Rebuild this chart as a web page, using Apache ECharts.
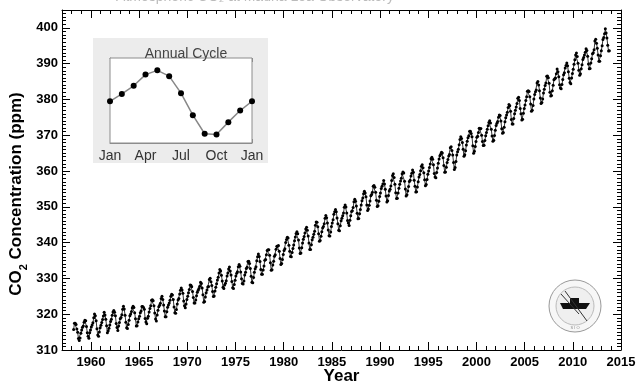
<!DOCTYPE html>
<html>
<head>
<meta charset="utf-8">
<script src="https://cdn.jsdelivr.net/npm/echarts@6/dist/echarts.min.js"></script>
<style>
  html, body { margin: 0; padding: 0; background: #fff; }
  #main { width: 636px; height: 383px; }
</style>
</head>
<body>
<div id="main"></div>
<script>
// Mauna Loa monthly CO2 (ppm), Mar 1958 .. Oct 2013, one row per year
const startYear = 1958;
const startMonth = 3;
const co2Ppm = [
  315.71, 317.45, 317.50, 317.10, 315.86, 314.93, 313.20, 312.66, 313.33, 314.67,
  315.62, 316.38, 316.71, 317.72, 318.29, 318.15, 316.54, 314.80, 313.84, 313.26, 314.80, 315.58,
  316.43, 316.97, 317.58, 319.02, 320.03, 319.59, 318.18, 315.91, 314.16, 313.83, 315.00, 316.19,
  316.93, 317.70, 318.54, 319.48, 320.58, 319.77, 318.57, 316.79, 314.80, 315.38, 316.10, 317.01,
  317.94, 318.56, 319.68, 320.63, 321.01, 320.55, 319.58, 317.40, 316.26, 315.42, 316.69, 317.69,
  318.74, 319.08, 319.86, 321.39, 322.25, 321.47, 319.74, 317.77, 316.21, 315.99, 317.12, 318.31,
  319.57, 320.07, 320.73, 321.77, 322.25, 321.89, 320.44, 318.70, 316.70, 316.79, 317.79, 318.71,
  319.44, 320.44, 320.89, 322.13, 322.16, 321.87, 321.39, 318.81, 317.81, 317.30, 318.87, 319.42,
  320.62, 321.59, 322.39, 323.87, 324.01, 323.75, 322.39, 320.37, 318.64, 318.10, 319.79, 321.08,
  322.07, 322.50, 323.04, 324.42, 325.00, 324.09, 322.55, 320.92, 319.31, 319.31, 320.72, 321.96,
  322.57, 323.15, 323.89, 325.02, 325.57, 325.36, 324.14, 322.03, 320.41, 320.25, 321.31, 322.84,
  324.00, 324.42, 325.64, 326.66, 327.34, 326.76, 325.88, 323.67, 322.38, 321.78, 322.85, 324.11,
  325.03, 325.99, 326.87, 328.13, 328.07, 327.66, 326.35, 324.69, 323.10, 323.16, 323.98, 325.13,
  326.17, 326.68, 327.18, 327.78, 328.92, 328.57, 327.34, 325.46, 323.36, 323.57, 324.80, 326.01,
  326.77, 327.63, 327.75, 329.72, 330.07, 329.09, 328.05, 326.32, 324.93, 325.06, 326.50, 327.55,
  328.54, 329.56, 330.30, 331.50, 332.48, 332.07, 330.87, 329.31, 327.51, 327.18, 328.16, 328.64,
  329.35, 330.71, 331.48, 332.65, 333.16, 332.06, 330.99, 329.17, 327.41, 327.20, 328.33, 329.50,
  330.68, 331.41, 331.85, 333.29, 333.91, 333.40, 331.78, 329.88, 328.57, 328.46, 329.26, 330.97,
  331.71, 332.80, 333.10, 334.71, 334.78, 334.17, 332.78, 330.64, 328.95, 328.77, 330.23, 331.69,
  332.70, 333.24, 334.96, 336.04, 336.82, 336.13, 334.73, 332.52, 331.19, 331.19, 332.35, 333.47,
  335.11, 335.26, 336.60, 337.77, 338.00, 337.99, 336.48, 334.37, 332.27, 332.41, 333.76, 334.83,
  336.21, 336.64, 338.12, 339.02, 339.02, 339.20, 337.58, 335.55, 333.89, 334.14, 335.26, 336.71,
  337.81, 338.29, 340.04, 340.86, 341.47, 341.26, 339.29, 337.60, 336.12, 336.08, 337.22, 338.34,
  339.36, 340.51, 341.57, 342.56, 343.01, 342.47, 340.71, 338.52, 336.96, 337.13, 338.58, 339.89,
  340.93, 341.69, 342.69, 343.79, 344.30, 343.43, 341.88, 339.89, 338.10, 338.11, 339.40, 340.79,
  341.48, 342.33, 343.16, 344.88, 345.74, 345.70, 344.41, 342.49, 340.41, 340.61, 341.75, 343.06,
  344.12, 344.49, 345.25, 346.83, 347.55, 346.97, 345.46, 343.55, 341.93, 341.87, 343.00, 344.51,
  345.48, 346.41, 347.91, 348.66, 349.28, 348.65, 346.90, 345.26, 343.47, 343.35, 344.73, 346.12,
  346.78, 347.48, 348.25, 349.86, 350.52, 349.98, 348.25, 346.17, 345.48, 344.82, 346.22, 347.49,
  348.73, 348.92, 349.81, 351.40, 352.15, 351.58, 350.21, 348.20, 346.66, 346.72, 348.08, 349.28,
  350.51, 351.70, 352.50, 353.67, 354.35, 353.88, 352.80, 350.49, 348.97, 349.37, 350.42, 351.62,
  353.07, 353.43, 354.08, 355.72, 355.95, 355.44, 354.05, 351.84, 350.09, 350.33, 351.55, 352.91,
  353.86, 355.10, 355.75, 356.38, 357.38, 356.39, 354.89, 353.06, 351.38, 351.69, 353.14, 354.41,
  354.93, 355.82, 357.33, 358.77, 359.23, 358.23, 356.30, 353.97, 352.34, 352.43, 353.89, 355.21,
  356.34, 357.21, 357.97, 359.22, 359.71, 359.43, 357.15, 354.99, 353.01, 353.41, 354.42, 355.68,
  357.10, 357.42, 358.59, 359.39, 360.30, 359.64, 357.45, 355.76, 354.14, 354.23, 355.53, 357.03,
  358.36, 359.04, 360.11, 361.36, 361.78, 360.94, 359.51, 357.59, 355.86, 356.21, 357.65, 359.10,
  360.04, 361.00, 361.98, 363.44, 363.83, 363.33, 361.78, 359.33, 358.32, 358.14, 359.61, 360.82,
  362.20, 363.36, 364.28, 364.69, 365.25, 365.06, 363.69, 361.55, 359.69, 359.72, 361.04, 362.39,
  363.24, 364.21, 364.65, 366.49, 366.77, 365.73, 364.46, 362.40, 360.44, 360.98, 362.65, 364.51,
  365.39, 366.10, 367.36, 368.79, 369.56, 369.13, 367.98, 366.10, 364.16, 364.54, 365.67, 367.30,
  368.35, 369.28, 369.84, 371.15, 371.12, 370.46, 369.61, 367.06, 364.95, 365.52, 366.88, 368.26,
  369.45, 369.71, 370.75, 371.98, 371.75, 371.87, 370.02, 368.27, 367.15, 367.18, 368.53, 369.83,
  370.76, 371.69, 372.63, 373.55, 374.03, 373.40, 371.68, 369.78, 368.34, 368.61, 369.94, 371.42,
  372.70, 373.37, 373.85, 375.02, 375.65, 375.50, 374.00, 371.82, 370.55, 370.80, 372.25, 373.79,
  374.88, 375.64, 376.45, 377.73, 378.60, 378.28, 376.70, 374.38, 373.17, 373.15, 374.66, 375.99,
  377.00, 377.87, 378.88, 380.35, 380.62, 379.69, 377.47, 376.01, 374.25, 374.46, 376.16, 377.51,
  378.46, 379.73, 380.77, 382.29, 382.45, 382.21, 380.74, 378.74, 376.70, 377.00, 378.35, 380.11,
  381.38, 382.19, 382.67, 384.61, 385.03, 384.05, 382.46, 380.41, 378.85, 379.13, 380.15, 381.82,
  382.89, 383.90, 384.58, 386.50, 386.56, 386.10, 384.50, 381.99, 380.96, 381.12, 382.45, 383.95,
  385.52, 385.82, 386.03, 387.21, 388.54, 387.76, 386.36, 384.09, 383.18, 382.99, 384.19, 385.56,
  386.94, 387.48, 388.82, 389.46, 390.18, 389.43, 387.74, 385.91, 384.77, 384.38, 385.99, 387.26,
  388.45, 389.82, 391.08, 392.46, 392.96, 392.03, 390.13, 388.15, 386.80, 387.18, 388.59, 389.68,
  391.19, 391.76, 392.40, 393.20, 394.16, 393.70, 392.06, 389.92, 388.55, 388.64, 390.18, 391.37,
  392.78, 393.09, 393.89, 396.35, 396.83, 395.74, 394.28, 392.40, 390.65, 390.70, 392.23, 393.61,
  395.02, 396.76, 397.32, 398.36, 399.76, 398.58, 397.20, 395.15, 393.51, 393.63
];

// inset: average seasonal cycle, Jan .. Jan
const cycleMonths = [0, 1, 2, 3, 4, 5, 6, 7, 8, 9, 10, 11, 12];
const cyclePpm = [378.8, 380.7, 382.8, 385.7, 386.8, 385.3, 380.9, 375.2, 370.4, 370.2, 373.4, 376.4, 378.8];
const cycleLabels = ['Jan', 'Apr', 'Jul', 'Oct', 'Jan'];

const majorYears = [1960, 1965, 1970, 1975, 1980, 1985, 1990, 1995, 2000, 2005, 2010, 2015];

const FONT = 'Liberation Sans, Arial, sans-serif';

const co2Points = co2Ppm.map(function (v, i) {
  return [startYear + (startMonth - 1 + i + 0.5) / 12, v];
});
const cyclePoints = cycleMonths.map(function (m, i) { return [m, cyclePpm[i]]; });

const chart = echarts.init(document.getElementById('main'), null, { renderer: 'canvas' });

const blackLine = { show: true, lineStyle: { color: '#000', width: 1 } };
const plain = function (v) { return String(v); };

const option = {
  backgroundColor: '#fff',
  animation: false,
  grid: [
    { left: 62, right: 15, top: 10, bottom: 33, show: false, outerBoundsMode: 'none', containLabel: false },
    { left: 110, top: 58, width: 142, height: 85, show: true, backgroundColor: '#fff', borderColor: '#8c8c8c', borderWidth: 1, z: 3, outerBoundsMode: 'none', containLabel: false }
  ],
  title: {
    text: 'Annual Cycle',
    left: 181,
    top: 42,
    textAlign: 'center',
    textStyle: { fontFamily: FONT, fontSize: 14, fontWeight: 'normal', color: '#444' }
  },
  graphic: [
    {
      type: 'rect', z: -10, silent: true,
      shape: { x: 93, y: 38, width: 175, height: 125 },
      style: { fill: '#ececec' }
    },
    {
      type: 'text', silent: true,
      style: {
        x: 255, y: -3, text: 'Atmospheric CO\u2082 at Mauna Loa Observatory',
        textAlign: 'center', textVerticalAlign: 'middle',
        font: '14px Liberation Sans', fill: '#bbb'
      }
    },
    {
      // NOAA / Scripps seal
      type: 'group', x: 575, y: 306, silent: true,
      children: [
        { type: 'circle', shape: { r: 26 }, style: { fill: '#f7f7f7', stroke: '#999', lineWidth: 1 } },
        { type: 'circle', shape: { r: 19 }, style: { fill: '#efefef', stroke: '#bbb', lineWidth: 1 } },
        { type: 'polygon', shape: { points: [[-15, -3], [15, -3], [11, 3], [-12, 3]] }, style: { fill: '#111' } },
        { type: 'rect', shape: { x: -5, y: -8, width: 9, height: 5 }, style: { fill: '#111' } },
        { type: 'line', shape: { x1: -10, y1: -15, x2: 12, y2: 15 }, style: { stroke: '#333', lineWidth: 1 } },
        { type: 'line', shape: { x1: -14, y1: -12, x2: 4, y2: 8 }, style: { stroke: '#333', lineWidth: 1 } },
        {
          type: 'text',
          style: { x: 0, y: 22, text: 'S I O', textAlign: 'center', textVerticalAlign: 'middle', font: '4px Liberation Sans', fill: '#888' }
        }
      ]
    }
  ],
  xAxis: [
    {
      // bottom: yearly minor ticks + labels
      type: 'value', gridIndex: 0, position: 'bottom', min: 1957, max: 2015, interval: 1,
      axisLine: blackLine,
      axisTick: { inside: true, length: 4, lineStyle: { color: '#000' } },
      axisLabel: {
        customValues: majorYears, formatter: plain,
        margin: 6, color: '#000', fontFamily: FONT, fontSize: 13, fontWeight: 'bold'
      },
      splitLine: { show: false },
      name: 'Year', nameLocation: 'middle', nameGap: 18, nameMoveOverlap: false,
      nameTextStyle: { fontFamily: FONT, fontSize: 17, fontWeight: 'bold', color: '#000' }
    },
    {
      // bottom: 5-year major ticks
      type: 'value', gridIndex: 0, position: 'bottom', min: 1957, max: 2015,
      axisLine: { show: false },
      axisTick: { inside: true, length: 8, customValues: majorYears, lineStyle: { color: '#000' } },
      axisLabel: { show: false },
      splitLine: { show: false }
    },
    {
      type: 'value', gridIndex: 0, position: 'top', min: 1957, max: 2015, interval: 1,
      axisLine: blackLine,
      axisTick: { inside: true, length: 4, lineStyle: { color: '#000' } },
      axisLabel: { show: false },
      splitLine: { show: false }
    },
    {
      type: 'value', gridIndex: 0, position: 'top', min: 1957, max: 2015,
      axisLine: { show: false },
      axisTick: { inside: true, length: 8, customValues: majorYears, lineStyle: { color: '#000' } },
      axisLabel: { show: false },
      splitLine: { show: false }
    },
    {
      // inset month axis
      type: 'value', gridIndex: 1, position: 'bottom', min: 0, max: 12, interval: 3,
      axisLine: { show: true, lineStyle: { color: '#8c8c8c' } },
      axisTick: { inside: true, length: 4, lineStyle: { color: '#8c8c8c' } },
      axisLabel: {
        margin: 6, color: '#333', fontFamily: FONT, fontSize: 14,
        formatter: function (v) { return cycleLabels[v / 3]; }
      },
      splitLine: { show: false }
    },
    {
      type: 'value', gridIndex: 1, position: 'top', min: 0, max: 12, interval: 3,
      axisLine: { show: true, lineStyle: { color: '#8c8c8c' } },
      axisTick: { inside: true, length: 4, lineStyle: { color: '#8c8c8c' } },
      axisLabel: { show: false },
      splitLine: { show: false }
    }
  ],
  yAxis: [
    {
      type: 'value', gridIndex: 0, position: 'left', min: 310, max: 405, interval: 10,
      axisLine: blackLine,
      axisTick: { inside: true, length: 8, lineStyle: { color: '#000' } },
      minorTick: { show: true, splitNumber: 10, length: 4, lineStyle: { color: '#000' } },
      axisLabel: {
        margin: 4, color: '#000', fontFamily: FONT, fontSize: 13, fontWeight: 'bold',
        formatter: function (v) { return v % 10 === 0 ? String(v) : ''; }
      },
      splitLine: { show: false },
      minorSplitLine: { show: false },
      name: '{a|CO}{s|2}{a| Concentration (ppm)}',
      nameLocation: 'middle', nameGap: 33, nameMoveOverlap: false,
      nameTextStyle: {
        color: '#000',
        padding: [0, 28, 0, 0],
        rich: {
          a: { fontFamily: FONT, fontSize: 17, fontWeight: 'bold', lineHeight: 19, verticalAlign: 'top', color: '#000' },
          s: { fontFamily: FONT, fontSize: 11, fontWeight: 'bold', lineHeight: 21, verticalAlign: 'bottom', color: '#000' }
        }
      }
    },
    {
      type: 'value', gridIndex: 0, position: 'right', min: 310, max: 405, interval: 10,
      axisLine: blackLine,
      axisTick: { inside: true, length: 8, lineStyle: { color: '#000' } },
      minorTick: { show: true, splitNumber: 10, length: 4, lineStyle: { color: '#000' } },
      axisLabel: { show: false },
      splitLine: { show: false }
    },
    {
      type: 'value', gridIndex: 1, min: 368, max: 390,
      axisLine: { show: true, lineStyle: { color: '#8c8c8c' } },
      axisTick: { show: false },
      axisLabel: { show: false },
      splitLine: { show: false }
    }
  ],
  series: [
    {
      name: 'CO2',
      type: 'line',
      xAxisIndex: 0,
      yAxisIndex: 0,
      data: co2Points,
      symbol: 'circle',
      symbolSize: 3,
      showSymbol: true,
      lineStyle: { color: '#000', width: 0.8 },
      itemStyle: { color: '#000' },
      z: 5
    },
    {
      name: 'Annual Cycle',
      type: 'line',
      xAxisIndex: 4,
      yAxisIndex: 2,
      data: cyclePoints,
      symbol: 'circle',
      symbolSize: 6,
      lineStyle: { color: '#888', width: 1.5 },
      itemStyle: { color: '#000' },
      z: 6
    }
  ]
};

chart.setOption(option);
</script>
</body>
</html>
